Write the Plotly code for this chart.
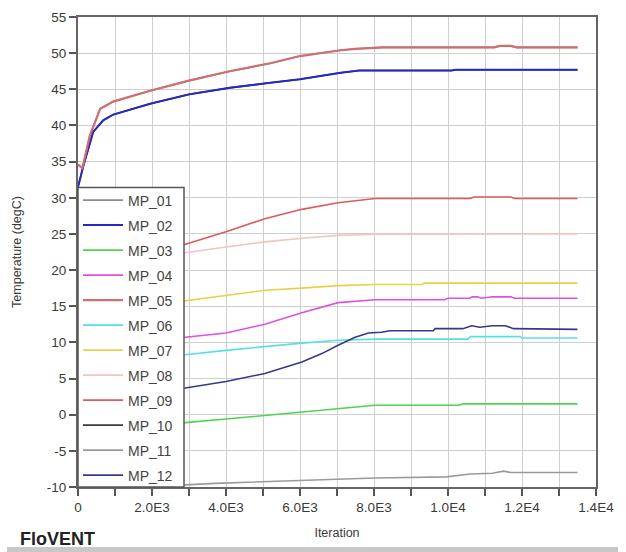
import plotly.graph_objects as go

# ---------------- data ----------------
names = ["MP_01", "MP_02", "MP_03", "MP_04", "MP_05", "MP_06",
         "MP_07", "MP_08", "MP_09", "MP_10", "MP_11", "MP_12"]

# top curve (MP_05, with MP_01 on the same path)
it_top = [0, 120, 320, 600, 950, 1950, 3000, 4100, 5200, 6000, 7100, 7500, 8250,
          11250, 11400, 11700, 11850, 13500]
mp05 = [34.6, 34.1, 38.6, 42.3, 43.3, 44.8, 46.2, 47.5, 48.6, 49.6, 50.4, 50.6, 50.8,
        50.8, 51.0, 51.0, 50.8, 50.8]
mp01 = [34.6, 34.1, 38.6, 42.3, 43.3, 44.8, 46.2, 47.5, 48.6, 49.6, 50.4, 50.6, 50.8,
        50.8, 51.0, 51.0, 50.8, 50.8]

# second curve (MP_02, with MP_10 on the same path)
it_sec = [0, 150, 410, 680, 950, 1950, 3000, 4100, 5200, 6000, 7100, 7600, 10100,
          10200, 13500]
mp02 = [31.5, 34.5, 39.1, 40.7, 41.5, 43.0, 44.3, 45.2, 45.9, 46.4, 47.3, 47.6, 47.6,
        47.7, 47.7]
mp10 = [31.5, 34.5, 39.1, 40.7, 41.5, 43.0, 44.3, 45.2, 45.9, 46.4, 47.3, 47.6, 47.6,
        47.7, 47.7]

it_09 = [0, 2900, 4000, 5050, 6050, 7030, 8030, 10600, 10700, 11700, 11800, 13500]
mp09 = [19.0, 23.6, 25.3, 27.1, 28.4, 29.3, 29.9, 29.9, 30.1, 30.1, 29.9, 29.9]

it_08 = [0, 2900, 4000, 5050, 6050, 7030, 8030, 13500]
mp08 = [20.0, 22.4, 23.2, 23.9, 24.4, 24.8, 24.95, 25.0]

it_07 = [0, 2900, 4000, 5050, 6050, 7030, 8030, 9300, 9350, 13500]
mp07 = [13.8, 15.7, 16.5, 17.2, 17.5, 17.85, 18.0, 18.0, 18.2, 18.2]

it_04 = [0, 2900, 4000, 5050, 6050, 7030, 8030, 9900, 10000, 10600, 10650, 10800,
         10900, 11200, 11700, 11800, 13500]
mp04 = [9.5, 10.7, 11.3, 12.5, 14.1, 15.5, 15.9, 15.9, 16.1, 16.1, 16.3, 16.3,
        16.1, 16.3, 16.3, 16.1, 16.1]

it_12 = [0, 2900, 4000, 5050, 6050, 6590, 7030, 7490, 7850, 8200, 8430, 9600, 9650,
         10400, 10640, 10860, 11200, 11550, 11770, 12560, 12670, 13500]
mp12 = [2.0, 3.7, 4.6, 5.7, 7.3, 8.45, 9.6, 10.7, 11.3, 11.4, 11.6, 11.6, 11.9,
        11.9, 12.3, 12.1, 12.3, 12.3, 11.9, 11.9, 11.8, 11.8]

it_06 = [0, 2900, 4000, 5050, 6050, 7030, 8030, 10550, 10600, 11950, 12000, 13500]
mp06 = [7.0, 8.3, 8.9, 9.45, 9.9, 10.3, 10.45, 10.45, 10.8, 10.8, 10.6, 10.6]

it_03 = [0, 2900, 4000, 5050, 6050, 7030, 8030, 10300, 10400, 13500]
mp03 = [-2.0, -1.1, -0.6, -0.1, 0.4, 0.85, 1.3, 1.3, 1.5, 1.5]

it_11 = [0, 2900, 3700, 5050, 6400, 8030, 9960, 10600, 11200, 11500, 11700, 13500]
mp11 = [-10.0, -9.7, -9.5, -9.25, -9.0, -8.75, -8.6, -8.2, -8.1, -7.8, -8.0, -8.0]

series = {
    "MP_01": (it_top, mp01), "MP_02": (it_sec, mp02), "MP_03": (it_03, mp03),
    "MP_04": (it_04, mp04), "MP_05": (it_top, mp05), "MP_06": (it_06, mp06),
    "MP_07": (it_07, mp07), "MP_08": (it_08, mp08), "MP_09": (it_09, mp09),
    "MP_10": (it_sec, mp10), "MP_11": (it_11, mp11), "MP_12": (it_12, mp12),
}

colors = {
    "MP_01": "#8c8c8c", "MP_02": "#2828c0", "MP_03": "#4fd44f", "MP_04": "#e050e0",
    "MP_05": "#cf6f6f", "MP_06": "#55e0e8", "MP_07": "#e8d048", "MP_08": "#f2c4c4",
    "MP_09": "#e05a5a", "MP_10": "#3a3a3a", "MP_11": "#9a9a9a", "MP_12": "#38388a",
}
widths = {n: 1.6 for n in names}
widths["MP_05"] = 2.2
widths["MP_02"] = 2.0

x_tickvals = list(range(0, 14001, 1000))
x_ticktext = ["0", "", "2.0E3", "", "4.0E3", "", "6.0E3", "", "8.0E3", "",
              "1.0E4", "", "1.2E4", "", "1.4E4"]
y_tickvals = list(range(-10, 56, 5))
y_ticktext = [str(v) for v in y_tickvals]

# drawing order (overlapping pairs: the dark/grey one goes underneath)
draw_order = ["MP_01", "MP_10", "MP_02", "MP_03", "MP_04", "MP_05", "MP_06",
              "MP_07", "MP_08", "MP_09", "MP_11", "MP_12"]

# ---------------- figure ----------------
FONT = "Liberation Sans, Arial, sans-serif"
fig = go.Figure()
for n in draw_order:
    xs, ys = series[n]
    fig.add_trace(go.Scatter(x=xs, y=ys, mode="lines", name=n, legendgroup=n,
                             legendrank=names.index(n) + 1,
                             line=dict(color=colors[n], width=widths[n])))

# legend box (white panel covering the lower-left of the plot)
fig.add_shape(type="rect", xref="paper", yref="paper",
              x0=0, x1=(184 - 78) / 518, y0=0, y1=(487 - 183) / 477,
              fillcolor="white", line=dict(color="#555555", width=1.5), layer="above")

fig.update_layout(
    width=626, height=552,
    margin=dict(l=78, r=30, t=10, b=65),
    paper_bgcolor="white", plot_bgcolor="white",
    font=dict(family=FONT, size=13, color="#3a3a3a"),
    showlegend=True,
    legend=dict(x=0.0, y=(487 - 180) / 477, xanchor="left", yanchor="top",
                bgcolor="rgba(0,0,0,0)", borderwidth=0,
                font=dict(family=FONT, size=14, color="#444444"),
                tracegroupgap=3.8, itemwidth=40),
    xaxis=dict(range=[0, 14000], tickvals=x_tickvals, ticktext=x_ticktext,
               showgrid=True, gridcolor="#cfcfcf", gridwidth=1,
               showline=True, linecolor="#666666", linewidth=2, mirror=True,
               ticks="outside", ticklen=7, tickcolor="#555555", tickwidth=1.5,
               tickfont=dict(size=13.5, color="#3a3a3a"),
               title=dict(text="Iteration", font=dict(size=12.5, color="#3a3a3a"),
                          standoff=14),
               zeroline=False),
    yaxis=dict(range=[-10, 55], tickvals=y_tickvals, ticktext=y_ticktext,
               showgrid=True, gridcolor="#cfcfcf", gridwidth=1,
               showline=True, linecolor="#666666", linewidth=2, mirror=True,
               ticks="outside", ticklen=7, tickcolor="#555555", tickwidth=1.5,
               tickfont=dict(size=13.5, color="#3a3a3a"),
               title=dict(text="Temperature (degC)", font=dict(size=12.5, color="#3a3a3a"),
                          standoff=22),
               zeroline=False),
)

fig.add_annotation(text="<b>FloVENT</b>", xref="paper", yref="paper",
                   x=(18 - 78) / 518, y=(487 - 540) / 477, xanchor="left", yanchor="middle",
                   showarrow=False, font=dict(family=FONT, size=18, color="#222222"))
fig.add_shape(type="rect", xref="paper", yref="paper",
              x0=(7 - 78) / 518, x1=(618 - 78) / 518,
              y0=(487 - 548) / 477, y1=(487 - 553) / 477,
              fillcolor="#c8c8c8", line=dict(width=0), layer="above")

fig.write_html("out.html")
